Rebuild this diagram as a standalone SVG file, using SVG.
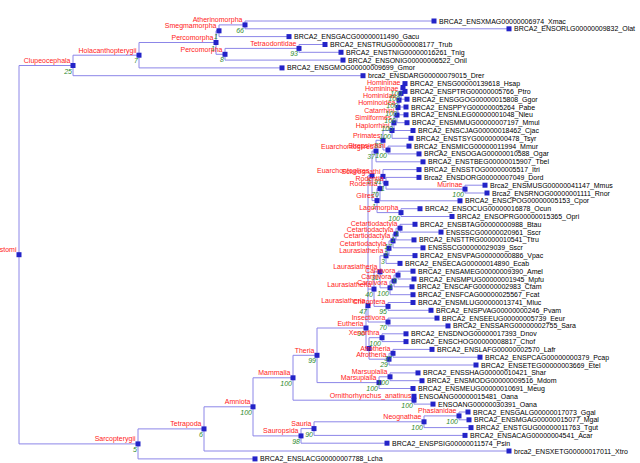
<svg xmlns="http://www.w3.org/2000/svg" width="640" height="463" viewBox="0 0 640 463">
<style>
.e{stroke:#8c86e8;stroke-width:1;fill:none}
.n{fill:#2323c8}
text{font-family:'Liberation Sans Narrow','Arial Narrow','Liberation Sans',Arial,sans-serif;font-size:7px}
.t{fill:#000}
.r{fill:#ff1a1a;text-anchor:end}
.b{fill:#2e8b2e;font-style:italic;text-anchor:end}
</style>
<rect width="640" height="463" fill="#fff"/>
<g id="edges" class="e">
<path d="M19,65.5V443.9M19,65.5H73M19,443.9H138"/>
<path d="M73,55.2V75.7M73,55.2H139M73,75.7H363"/>
<path d="M139,42.5V67.9M139,42.5H216M139,67.9H282"/>
<path d="M216,30.8V54.3M216,30.8H219M216,54.3H225"/>
<path d="M219,24.9V36.6M219,24.9H245M219,36.6H289"/>
<path d="M245,21V28.8M245,21H434M245,28.8H509"/>
<path d="M225,48.4V60.1M225,48.4H299M225,60.1H343"/>
<path d="M299,44.5V52.3M299,44.5H325M299,52.3H341"/>
<path d="M138,428.9V458.9M138,428.9H204M138,458.9H255"/>
<path d="M204,406.8V451M204,406.8H253M204,451H509"/>
<path d="M253,377.8V435.9M253,377.8H293M253,435.9H301"/>
<path d="M301,428.6V443.2M301,428.6H314M301,443.2H387"/>
<path d="M314,421.8V435.4M314,421.8H424M314,435.4H465"/>
<path d="M424,415.9V427.6M424,415.9H459M424,427.6H471"/>
<path d="M459,412V419.8M459,412H468M459,419.8H469"/>
<path d="M293,355.3V400.2M293,355.3H317M293,400.2H414"/>
<path d="M414,396.3V404.1M414,404.1H433"/>
<path d="M317,328V382.6M317,328H366M317,382.6H379"/>
<path d="M379,376.8V388.5M379,376.8H390M379,388.5H413"/>
<path d="M390,372.9V380.7M390,372.9H418M390,380.7H422"/>
<path d="M366,305.6V348.5M366,305.6H368M366,348.5H369"/>
<path d="M369,337.7V359.2M369,337.7H382M369,359.2H389"/>
<path d="M382,333.8V341.6M382,333.8H406M382,341.6H406"/>
<path d="M389,353.3V365M389,353.3H393M389,365H476"/>
<path d="M393,349.4V357.2M393,349.4H432M393,357.2H480"/>
<path d="M368,175.8V322M368,175.8H372M368,289.1H374M368,322H388"/>
<path d="M388,318.1V325.9M388,318.1H437M388,325.9H448"/>
<path d="M374,271.8V306.4M374,271.8H380M374,306.4H388"/>
<path d="M388,302.5V310.3M388,302.5H413M388,310.3H431"/>
<path d="M380,255.8V287.8M380,255.8H386M380,287.8H390"/>
<path d="M390,281V294.7M390,281H394M390,294.7H413"/>
<path d="M394,275.1V286.8M394,275.1H398M394,286.8H412"/>
<path d="M398,271.2V279M398,271.2H413M398,279H414"/>
<path d="M386,248.3V263.4M386,248.3H389M386,263.4H400"/>
<path d="M389,240.9V255.6M389,240.9H393M389,255.6H415"/>
<path d="M393,234V247.8M393,234H396M393,247.8H423"/>
<path d="M396,228.2V239.9M396,228.2H400M396,239.9H414"/>
<path d="M400,224.3V232.1M400,224.3H415M400,232.1H441"/>
<path d="M372,151.1V200.6M372,151.1H376M372,200.6H377"/>
<path d="M376,140.3V161.8M376,140.3H383M376,161.8H423"/>
<path d="M383,130.5V150M383,130.5H392M383,150H388"/>
<path d="M388,146.1V153.9M388,146.1H409M388,153.9H419"/>
<path d="M392,122.8V138.3M392,122.8H394M392,138.3H411"/>
<path d="M394,115.1V130.5M394,115.1H397M394,130.5H413"/>
<path d="M397,107.5V122.7M397,107.5H398M397,122.7H407"/>
<path d="M398,100.2V114.8M398,100.2H399M398,114.8H406"/>
<path d="M399,93.4V107M399,93.4H401M399,107H406"/>
<path d="M401,87.5V99.2M401,87.5H403M401,99.2H407"/>
<path d="M403,83.6V91.4M403,83.6H405M403,91.4H405"/>
<path d="M377,188.6V212.6M377,188.6H380M377,212.6H401"/>
<path d="M380,176.4V200.8M380,176.4H383M380,200.8H460"/>
<path d="M383,169.6V183.3M383,169.6H419M383,183.3H386"/>
<path d="M386,177.4V189.1M386,177.4H419M386,189.1H465"/>
<path d="M465,185.2V193M465,185.2H485M465,193H487"/>
<path d="M401,208.7V216.5M401,208.7H420M401,216.5H452"/>
</g>
<g id="n-Euteleostomi"><rect class="n" x="16.5" y="252.2" width="5" height="5"/><text class="r" x="16.5" y="252.3">Euteleostomi</text></g>
<g id="n-Clupeocephala"><rect class="n" x="70.5" y="63" width="5" height="5"/><text class="r" x="70.5" y="63">Clupeocephala</text><text class="b" x="72" y="73.5">25</text></g>
<g id="n-Holacanthopterygii"><rect class="n" x="136.5" y="52.7" width="5" height="5"/><text class="r" x="136.5" y="52.7">Holacanthopterygii</text><text class="b" x="138" y="63.2">7</text></g>
<g id="n-Percomorpha1"><rect class="n" x="213.5" y="40" width="5" height="5"/><text class="r" x="213.5" y="40">Percomorpha</text><text class="b" x="215" y="50.5">1</text></g>
<g id="n-Smegmamorpha"><rect class="n" x="216.5" y="28.3" width="5" height="5"/><text class="r" x="216.5" y="28.3">Smegmamorpha</text><text class="b" x="218" y="38.8">1</text></g>
<g id="n-Atherinomorpha"><rect class="n" x="242.5" y="22.4" width="5" height="5"/><text class="r" x="242.5" y="22.4">Atherinomorpha</text><text class="b" x="244" y="32.9">66</text></g>
<g id="n-Percomorpha2"><rect class="n" x="222.5" y="51.8" width="5" height="5"/><text class="r" x="222.5" y="51.8">Percomorpha</text><text class="b" x="224" y="62.3">8</text></g>
<g id="n-Tetraodontidae"><rect class="n" x="296.5" y="45.9" width="5" height="5"/><text class="r" x="296.5" y="45.9">Tetraodontidae</text><text class="b" x="298" y="56.4">93</text></g>
<g id="n-Sarcopterygii"><rect class="n" x="135.5" y="441.4" width="5" height="5"/><text class="r" x="135.5" y="441.4">Sarcopterygii</text><text class="b" x="137" y="451.9">5</text></g>
<g id="n-Tetrapoda"><rect class="n" x="201.5" y="426.4" width="5" height="5"/><text class="r" x="201.5" y="426.4">Tetrapoda</text><text class="b" x="203" y="436.9">6</text></g>
<g id="n-Amniota"><rect class="n" x="250.5" y="404.3" width="5" height="5"/><text class="r" x="250.5" y="404.3">Amniota</text><text class="b" x="252" y="414.8">100</text></g>
<g id="n-Sauropsida"><rect class="n" x="298.5" y="433.4" width="5" height="5"/><text class="r" x="298.5" y="433.4">Sauropsida</text><text class="b" x="300" y="443.9">98</text></g>
<g id="n-Sauria"><rect class="n" x="311.5" y="426.1" width="5" height="5"/><text class="r" x="311.5" y="426.1">Sauria</text><text class="b" x="313" y="436.6">90</text></g>
<g id="n-Neognathae"><rect class="n" x="421.5" y="419.3" width="5" height="5"/><text class="r" x="421.5" y="419.3">Neognathae</text><text class="b" x="423" y="429.8">100</text></g>
<g id="n-Phasianidae"><rect class="n" x="456.5" y="413.4" width="5" height="5"/><text class="r" x="456.5" y="413.4">Phasianidae</text><text class="b" x="458" y="423.9">100</text></g>
<g id="n-Mammalia"><rect class="n" x="290.5" y="375.3" width="5" height="5"/><text class="r" x="290.5" y="375.3">Mammalia</text><text class="b" x="292" y="385.8">100</text></g>
<g id="n-Ornithorhynchus"><rect class="n" x="411.5" y="397.7" width="5" height="5"/><text class="r" x="411.5" y="397.7">Ornithorhynchus_anatinus</text><text class="b" x="413" y="408.2">100</text></g>
<g id="n-Theria"><rect class="n" x="314.5" y="352.8" width="5" height="5"/><text class="r" x="314.5" y="352.8">Theria</text><text class="b" x="316" y="363.3">99</text></g>
<g id="n-Marsupialia1"><rect class="n" x="376.5" y="380.1" width="5" height="5"/><text class="r" x="376.5" y="380.1">Marsupialia</text><text class="b" x="378" y="390.6">100</text></g>
<g id="n-Marsupialia2"><rect class="n" x="387.5" y="374.3" width="5" height="5"/><text class="r" x="387.5" y="374.3">Marsupialia</text><text class="b" x="389" y="384.8">100</text></g>
<g id="n-Eutheria"><rect class="n" x="363.5" y="325.5" width="5" height="5"/><text class="r" x="363.5" y="325.5">Eutheria</text><text class="b" x="365" y="336">90</text></g>
<g id="n-Atlanto"><rect class="n" x="366.5" y="346" width="5" height="5"/></g>
<g id="n-Xenarthra"><rect class="n" x="379.5" y="335.2" width="5" height="5"/><text class="r" x="379.5" y="335.2">Xenarthra</text><text class="b" x="381" y="345.7">100</text></g>
<g id="n-Afrotheria1"><rect class="n" x="386.5" y="356.7" width="5" height="5"/><text class="r" x="386.5" y="356.7">Afrotheria</text><text class="b" x="388" y="367.2">29</text></g>
<g id="n-Afrotheria2"><rect class="n" x="390.5" y="350.8" width="5" height="5"/><text class="r" x="390.5" y="350.8">Afrotheria</text><text class="b" x="392" y="361.3">37</text></g>
<g id="n-Laurasiatheria4"><rect class="n" x="365.5" y="303.1" width="5" height="5"/><text class="r" x="365.5" y="303.1">Laurasiatheria</text><text class="b" x="367" y="313.6">47</text></g>
<g id="n-Insectivora"><rect class="n" x="385.5" y="319.5" width="5" height="5"/><text class="r" x="385.5" y="319.5">Insectivora</text><text class="b" x="387" y="330">70</text></g>
<g id="n-Laurasiatheria3"><rect class="n" x="371.5" y="286.6" width="5" height="5"/><text class="r" x="371.5" y="286.6">Laurasiatheria</text><text class="b" x="373" y="297.1">40</text></g>
<g id="n-Chiroptera"><rect class="n" x="385.5" y="303.9" width="5" height="5"/><text class="r" x="385.5" y="303.9">Chiroptera</text><text class="b" x="387" y="314.4">95</text></g>
<g id="n-Laurasiatheria2"><rect class="n" x="377.5" y="269.3" width="5" height="5"/><text class="r" x="377.5" y="269.3">Laurasiatheria</text><text class="b" x="379" y="279.8">31</text></g>
<g id="n-Carnivora3"><rect class="n" x="387.5" y="285.3" width="5" height="5"/><text class="r" x="387.5" y="285.3">Carnivora</text><text class="b" x="389" y="295.8">100</text></g>
<g id="n-Carnivora2"><rect class="n" x="391.5" y="278.5" width="5" height="5"/><text class="r" x="391.5" y="278.5">Carnivora</text><text class="b" x="393" y="289">1</text></g>
<g id="n-Carnivora1"><rect class="n" x="395.5" y="272.6" width="5" height="5"/><text class="r" x="395.5" y="272.6">Carnivora</text><text class="b" x="397" y="283.1">0</text></g>
<g id="n-Laurasiatheria1"><rect class="n" x="383.5" y="253.3" width="5" height="5"/><text class="r" x="383.5" y="253.3">Laurasiatheria</text><text class="b" x="385" y="263.8">3</text></g>
<g id="n-Cetartiodactyla4"><rect class="n" x="386.5" y="245.8" width="5" height="5"/><text class="r" x="386.5" y="245.8">Cetartiodactyla</text><text class="b" x="388" y="256.3">3</text></g>
<g id="n-Cetartiodactyla3"><rect class="n" x="390.5" y="238.4" width="5" height="5"/><text class="r" x="390.5" y="238.4">Cetartiodactyla</text><text class="b" x="392" y="248.9">17</text></g>
<g id="n-Cetartiodactyla2"><rect class="n" x="393.5" y="231.5" width="5" height="5"/><text class="r" x="393.5" y="231.5">Cetartiodactyla</text><text class="b" x="395" y="242">1</text></g>
<g id="n-Cetartiodactyla1"><rect class="n" x="397.5" y="225.7" width="5" height="5"/><text class="r" x="397.5" y="225.7">Cetartiodactyla</text><text class="b" x="399" y="236.2">1</text></g>
<g id="n-Euarchontoglires2"><rect class="n" x="369.5" y="173.3" width="5" height="5"/><text class="r" x="369.5" y="173.3">Euarchontoglires</text><text class="b" x="371" y="183.8">1</text></g>
<g id="n-Euarchontoglires1"><rect class="n" x="373.5" y="148.6" width="5" height="5"/><text class="r" x="373.5" y="148.6">Euarchontoglires</text><text class="b" x="375" y="159.1">37</text></g>
<g id="n-Primates"><rect class="n" x="380.5" y="137.8" width="5" height="5"/><text class="r" x="380.5" y="137.8">Primates</text><text class="b" x="382" y="148.3">83</text></g>
<g id="n-Strepsirrhini"><rect class="n" x="385.5" y="147.5" width="5" height="5"/><text class="r" x="385.5" y="147.5">Strepsirrhini</text><text class="b" x="387" y="158">100</text></g>
<g id="n-Haplorrhini"><rect class="n" x="389.5" y="128" width="5" height="5"/><text class="r" x="389.5" y="128">Haplorrhini</text><text class="b" x="391" y="138.5">100</text></g>
<g id="n-Simiiformes"><rect class="n" x="391.5" y="120.3" width="5" height="5"/><text class="r" x="391.5" y="120.3">Simiiformes</text><text class="b" x="393" y="130.8">100</text></g>
<g id="n-Catarrhini"><rect class="n" x="394.5" y="112.6" width="5" height="5"/><text class="r" x="394.5" y="112.6">Catarrhini</text><text class="b" x="396" y="123.1">100</text></g>
<g id="n-Hominoidea"><rect class="n" x="395.5" y="105" width="5" height="5"/><text class="r" x="395.5" y="105">Hominoidea</text><text class="b" x="397" y="115.5">100</text></g>
<g id="n-Hominidae"><rect class="n" x="396.5" y="97.7" width="5" height="5"/><text class="r" x="396.5" y="97.7">Hominidae</text><text class="b" x="398" y="108.2">100</text></g>
<g id="n-Homininae2"><rect class="n" x="398.5" y="90.9" width="5" height="5"/><text class="r" x="398.5" y="90.9">Homininae</text><text class="b" x="400" y="101.4">100</text></g>
<g id="n-Homininae1"><rect class="n" x="400.5" y="85" width="5" height="5"/><text class="r" x="400.5" y="85">Homininae</text><text class="b" x="402" y="95.5">100</text></g>
<g id="n-Glires"><rect class="n" x="374.5" y="198.1" width="5" height="5"/><text class="r" x="374.5" y="198.1">Glires</text><text class="b" x="376" y="208.6">1</text></g>
<g id="n-Rodentia2"><rect class="n" x="377.5" y="186.1" width="5" height="5"/><text class="r" x="377.5" y="186.1">Rodentia</text><text class="b" x="379" y="196.6">70</text></g>
<g id="n-Sciurognathi"><rect class="n" x="380.5" y="173.9" width="5" height="5"/><text class="r" x="380.5" y="173.9">Sciurognathi</text><text class="b" x="382" y="184.4">91</text></g>
<g id="n-Rodentia1"><rect class="n" x="383.5" y="180.8" width="5" height="5"/><text class="r" x="383.5" y="180.8">Rodentia</text><text class="b" x="385" y="191.3">1</text></g>
<g id="n-Murinae"><rect class="n" x="462.5" y="186.6" width="5" height="5"/><text class="r" x="462.5" y="186.6">Murinae</text><text class="b" x="464" y="197.1">100</text></g>
<g id="n-Lagomorpha"><rect class="n" x="398.5" y="210.1" width="5" height="5"/><text class="r" x="398.5" y="210.1">Lagomorpha</text><text class="b" x="400" y="220.6">100</text></g>
<g id="leaves" class="t">
<g id="l-Xmac"><rect class="n" x="431.5" y="18.5" width="5" height="5"/><text x="439" y="23.5">BRCA2_ENSXMAG00000006974_Xmac</text></g>
<g id="l-Olat"><rect class="n" x="506.5" y="26.3" width="5" height="5"/><text x="514" y="31.3">BRCA2_ENSORLG00000009832_Olat</text></g>
<g id="l-Gacu"><rect class="n" x="286.5" y="34.1" width="5" height="5"/><text x="294" y="39.1">BRCA2_ENSGACG00000011490_Gacu</text></g>
<g id="l-Trub"><rect class="n" x="322.5" y="42" width="5" height="5"/><text x="330" y="47">BRCA2_ENSTRUG00000008177_Trub</text></g>
<g id="l-Tnig"><rect class="n" x="338.5" y="49.8" width="5" height="5"/><text x="346" y="54.8">BRCA2_ENSTNIG00000016261_Tnig</text></g>
<g id="l-Onil"><rect class="n" x="340.5" y="57.6" width="5" height="5"/><text x="348" y="62.6">BRCA2_ENSONIG00000006522_Onil</text></g>
<g id="l-Gmor"><rect class="n" x="279.5" y="65.4" width="5" height="5"/><text x="287" y="70.4">BRCA2_ENSGMOG00000009699_Gmor</text></g>
<g id="l-Drer"><rect class="n" x="360.5" y="73.2" width="5" height="5"/><text x="368" y="78.2">brca2_ENSDARG00000079015_Drer</text></g>
<g id="l-Hsap"><rect class="n" x="402.5" y="81.1" width="5" height="5"/><text x="410" y="86.1">BRCA2_ENSG00000139618_Hsap</text></g>
<g id="l-Ptro"><rect class="n" x="402.5" y="88.9" width="5" height="5"/><text x="410" y="93.9">BRCA2_ENSPTRG00000005766_Ptro</text></g>
<g id="l-Ggor"><rect class="n" x="404.5" y="96.7" width="5" height="5"/><text x="412" y="101.7">BRCA2_ENSGGOG00000015808_Ggor</text></g>
<g id="l-Pabe"><rect class="n" x="403.5" y="104.5" width="5" height="5"/><text x="411" y="109.5">BRCA2_ENSPPYG00000005264_Pabe</text></g>
<g id="l-Nleu"><rect class="n" x="403.5" y="112.3" width="5" height="5"/><text x="411" y="117.3">BRCA2_ENSNLEG00000001048_Nleu</text></g>
<g id="l-Mmul"><rect class="n" x="404.5" y="120.2" width="5" height="5"/><text x="412" y="125.2">BRCA2_ENSMMUG00000007197_Mmul</text></g>
<g id="l-Cjac"><rect class="n" x="410.5" y="128" width="5" height="5"/><text x="418" y="133">BRCA2_ENSCJAG00000018462_Cjac</text></g>
<g id="l-Tsyr"><rect class="n" x="408.5" y="135.8" width="5" height="5"/><text x="416" y="140.8">BRCA2_ENSTSYG00000000478_Tsyr</text></g>
<g id="l-Mmur"><rect class="n" x="406.5" y="143.6" width="5" height="5"/><text x="414" y="148.6">BRCA2_ENSMICG00000011994_Mmur</text></g>
<g id="l-Ogar"><rect class="n" x="416.5" y="151.4" width="5" height="5"/><text x="424" y="156.4">BRCA2_ENSOGAG00000010588_Ogar</text></g>
<g id="l-Tbel"><rect class="n" x="420.5" y="159.3" width="5" height="5"/><text x="428" y="164.3">BRCA2_ENSTBEG00000015907_Tbel</text></g>
<g id="l-Itri"><rect class="n" x="416.5" y="167.1" width="5" height="5"/><text x="424" y="172.1">BRCA2_ENSSTOG00000005517_Itri</text></g>
<g id="l-Dord"><rect class="n" x="416.5" y="174.9" width="5" height="5"/><text x="424" y="179.9">Brca2_ENSDORG00000007049_Dord</text></g>
<g id="l-Mmus"><rect class="n" x="482.5" y="182.7" width="5" height="5"/><text x="490" y="187.7">Brca2_ENSMUSG00000041147_Mmus</text></g>
<g id="l-Rnor"><rect class="n" x="484.5" y="190.5" width="5" height="5"/><text x="492" y="195.5">Brca2_ENSRNOG00000001111_Rnor</text></g>
<g id="l-Cpor"><rect class="n" x="457.5" y="198.3" width="5" height="5"/><text x="465" y="203.3">BRCA2_ENSCPOG00000005153_Cpor</text></g>
<g id="l-Ocun"><rect class="n" x="417.5" y="206.2" width="5" height="5"/><text x="425" y="211.2">BRCA2_ENSOCUG00000016878_Ocun</text></g>
<g id="l-Opri"><rect class="n" x="449.5" y="214" width="5" height="5"/><text x="457" y="219">BRCA2_ENSOPRG00000015365_Opri</text></g>
<g id="l-Btau"><rect class="n" x="412.5" y="221.8" width="5" height="5"/><text x="420" y="226.8">BRCA2_ENSBTAG00000000988_Btau</text></g>
<g id="l-Sscr1"><rect class="n" x="438.5" y="229.6" width="5" height="5"/><text x="446" y="234.6">ENSSSCG00000020961_Sscr</text></g>
<g id="l-Ttru"><rect class="n" x="411.5" y="237.4" width="5" height="5"/><text x="419" y="242.4">BRCA2_ENSTTRG00000010541_Ttru</text></g>
<g id="l-Sscr2"><rect class="n" x="420.5" y="245.3" width="5" height="5"/><text x="428" y="250.3">ENSSSCG00000029039_Sscr</text></g>
<g id="l-Vpac"><rect class="n" x="412.5" y="253.1" width="5" height="5"/><text x="420" y="258.1">BRCA2_ENSVPAG00000000886_Vpac</text></g>
<g id="l-Ecab"><rect class="n" x="397.5" y="260.9" width="5" height="5"/><text x="405" y="265.9">BRCA2_ENSECAG00000014890_Ecab</text></g>
<g id="l-Amel"><rect class="n" x="410.5" y="268.7" width="5" height="5"/><text x="418" y="273.7">BRCA2_ENSAMEG00000009390_Amel</text></g>
<g id="l-Mpfu"><rect class="n" x="411.5" y="276.5" width="5" height="5"/><text x="419" y="281.5">BRCA2_ENSMPUG00000001945_Mpfu</text></g>
<g id="l-Cfam"><rect class="n" x="409.5" y="284.3" width="5" height="5"/><text x="417" y="289.3">BRCA2_ENSCAFG00000002983_Cfam</text></g>
<g id="l-Fcat"><rect class="n" x="410.5" y="292.2" width="5" height="5"/><text x="418" y="297.2">BRCA2_ENSFCAG00000025567_Fcat</text></g>
<g id="l-Mluc"><rect class="n" x="410.5" y="300" width="5" height="5"/><text x="418" y="305">BRCA2_ENSMLUG00000013741_Mluc</text></g>
<g id="l-Pvam"><rect class="n" x="428.5" y="307.8" width="5" height="5"/><text x="436" y="312.8">BRCA2_ENSPVAG00000000246_Pvam</text></g>
<g id="l-Eeur"><rect class="n" x="434.5" y="315.6" width="5" height="5"/><text x="442" y="320.6">BRCA2_ENSEEUG00000005739_Eeur</text></g>
<g id="l-Sara"><rect class="n" x="445.5" y="323.4" width="5" height="5"/><text x="453" y="328.4">BRCA2_ENSSARG00000002755_Sara</text></g>
<g id="l-Dnov"><rect class="n" x="403.5" y="331.3" width="5" height="5"/><text x="411" y="336.3">BRCA2_ENSDNOG00000017393_Dnov</text></g>
<g id="l-Chof"><rect class="n" x="403.5" y="339.1" width="5" height="5"/><text x="411" y="344.1">BRCA2_ENSCHOG00000008817_Chof</text></g>
<g id="l-Lafr"><rect class="n" x="429.5" y="346.9" width="5" height="5"/><text x="437" y="351.9">BRCA2_ENSLAFG00000002570_Lafr</text></g>
<g id="l-Pcap"><rect class="n" x="477.5" y="354.7" width="5" height="5"/><text x="485" y="359.7">BRCA2_ENSPCAG00000000379_Pcap</text></g>
<g id="l-Etel"><rect class="n" x="473.5" y="362.5" width="5" height="5"/><text x="481" y="367.5">BRCA2_ENSETEG00000003669_Etel</text></g>
<g id="l-Shar"><rect class="n" x="415.5" y="370.4" width="5" height="5"/><text x="423" y="375.4">BRCA2_ENSSHAG00000010421_Shar</text></g>
<g id="l-Mdom"><rect class="n" x="419.5" y="378.2" width="5" height="5"/><text x="427" y="383.2">BRCA2_ENSMODG00000009516_Mdom</text></g>
<g id="l-Meug"><rect class="n" x="410.5" y="386" width="5" height="5"/><text x="418" y="391">BRCA2_ENSMEUG00000010691_Meug</text></g>
<g id="l-Oana1"><rect class="n" x="411.5" y="393.8" width="5" height="5"/><text x="419" y="398.8">ENSOANG00000015481_Oana</text></g>
<g id="l-Oana2"><rect class="n" x="430.5" y="401.6" width="5" height="5"/><text x="438" y="406.6">ENSOANG00000030391_Oana</text></g>
<g id="l-Ggal"><rect class="n" x="465.5" y="409.5" width="5" height="5"/><text x="473" y="414.5">BRCA2_ENSGALG00000017073_Ggal</text></g>
<g id="l-Mgal"><rect class="n" x="466.5" y="417.3" width="5" height="5"/><text x="474" y="422.3">BRCA2_ENSMGAG00000015077_Mgal</text></g>
<g id="l-Tgut"><rect class="n" x="468.5" y="425.1" width="5" height="5"/><text x="476" y="430.1">BRCA2_ENSTGUG00000011763_Tgut</text></g>
<g id="l-Acar"><rect class="n" x="462.5" y="432.9" width="5" height="5"/><text x="470" y="437.9">BRCA2_ENSACAG00000004541_Acar</text></g>
<g id="l-Psin"><rect class="n" x="384.5" y="440.7" width="5" height="5"/><text x="392" y="445.7">BRCA2_ENSPSIG00000011574_Psin</text></g>
<g id="l-Xtro"><rect class="n" x="506.5" y="448.5" width="5" height="5"/><text x="514" y="453.5">brca2_ENSXETG00000017011_Xtro</text></g>
<g id="l-Lcha"><rect class="n" x="252.5" y="456.4" width="5" height="5"/><text x="260" y="461.4">BRCA2_ENSLACG00000007788_Lcha</text></g>
</g>
</svg>
